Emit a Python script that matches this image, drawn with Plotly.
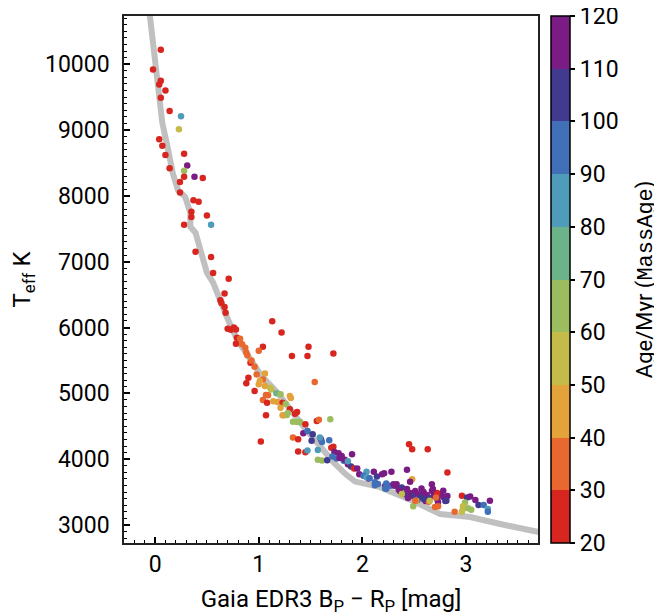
import plotly.graph_objects as go

# Isochrone (grey track)
iso_bp_rp = [-0.07, -0.05, 0.0, 0.03, 0.07, 0.12, 0.17, 0.22, 0.29, 0.34, 0.34, 0.39, 0.43,
             0.50, 0.56, 0.61, 0.69, 0.79, 0.92, 1.03, 1.18, 1.30, 1.43, 1.56, 1.72,
             1.84, 1.93, 2.17, 2.49, 2.75, 3.04, 3.33, 3.69, 3.80]
iso_teff = [11000, 10727, 9955, 9455, 9106, 8742, 8348, 8091, 7985, 7742, 7530, 7439, 7212,
            6833, 6682, 6470, 6167, 5818, 5515, 5258, 5015, 4758, 4500, 4258, 3955,
            3770, 3660, 3576, 3364, 3167, 3121, 3015, 2894, 2860]

# Stars: colour, effective temperature, age (Myr)
bp_rp = [0.055, -0.02, 0.055, 0.04, 0.10, 0.055, 0.14, 0.25, 0.23, 0.04, 0.07, 0.10, 0.28, 0.31,
         0.28, 0.14, 0.28, 0.38, 0.46, 0.24, 0.24, 0.37, 0.42, 0.35, 0.35, 0.50, 0.28, 0.54,
         0.39, 0.54, 0.56, 0.71,
         0.67, 0.63, 0.64, 0.67, 0.68, 1.13, 1.22, 0.70, 0.73, 0.76, 0.78, 0.79, 0.82, 0.78,
         0.84, 0.87, 1.04, 1.48, 1.32, 1.47, 1.72, 1.00, 0.88, 0.89, 0.92, 0.93, 0.96, 0.90,
         0.88, 0.98, 1.06, 1.04, 1.01, 1.00, 1.06, 1.11, 1.12, 0.96, 1.54, 1.07, 1.09, 1.17,
         1.21, 1.30, 1.31, 1.04, 1.08, 1.14, 1.18, 1.23, 1.26, 1.21, 1.30, 1.24, 1.27, 1.23,
         1.37, 1.35, 1.07, 1.33, 1.37, 1.40, 1.45, 1.56, 1.58, 1.69, 1.33, 1.38, 1.02, 1.43,
         1.47, 1.52, 1.60, 1.61, 1.68, 1.38, 1.45, 1.47, 1.57, 1.57, 1.61, 1.66, 1.70, 1.72,
         1.73, 1.77, 1.80, 1.90,
         1.28, 1.51, 1.59, 1.71, 1.75, 1.82, 1.86, 1.89, 1.92, 1.95, 1.97, 2.04, 2.06, 2.11,
         2.14, 2.19, 2.28, 2.33, 2.27, 2.12, 2.22, 1.78, 1.83, 1.86, 2.01, 2.04, 2.07, 2.12,
         2.15, 2.23, 2.31, 2.35, 2.38,
         2.21, 2.43, 2.48, 2.46, 2.23, 2.30, 2.22, 2.67, 2.57,
         2.36, 2.40, 2.43, 2.46, 2.49, 2.51, 2.54, 2.57, 2.59, 2.62, 2.65, 2.67, 2.69, 2.72,
         2.75, 2.78, 2.80, 2.82, 2.61, 2.53, 2.44, 2.73,
         2.72, 2.71, 2.52, 2.49, 2.70, 2.73, 2.89, 2.96, 3.01, 3.04, 3.09, 3.23, 2.99, 3.12,
         3.17, 3.21, 3.21, 2.97, 2.97, 2.96, 3.02, 3.05, 2.45, 2.48, 2.63, 2.82, 2.51, 2.64,
         2.68, 2.78, 2.81, 2.59, 2.65, 2.38]
teff = [10220, 9920, 9750, 9690, 9600, 9490, 9290, 9210, 9010, 8860, 8760, 8620, 8640, 8460,
        8380, 8420, 8290, 8290, 8270, 8210, 8050, 7935, 7910, 7760, 7680, 7700, 7560, 7560,
        7150, 7070, 6830, 6740,
        6516, 6414, 6374, 6313, 6223, 6096, 5925, 5980, 5965, 6000, 5970, 5844, 5830, 5755,
        5745, 5693, 5708, 5708, 5566, 5566, 5606, 5647, 5620, 5580, 5466, 5500, 5405, 5238,
        5152, 5288, 5303, 5212, 5187, 5137, 5111, 5087, 5060, 5037, 5172, 4975, 4970, 5000,
        4985, 4960, 4930, 4899, 4859, 4880, 4870, 4859, 4840, 4783, 4758, 4667, 4670, 4667,
        4717, 4690, 4667, 4570, 4566, 4566, 4531, 4581, 4600, 4606, 4329, 4303, 4268, 4394,
        4430, 4380, 4303, 4260, 4288, 4117, 4105, 4132, 4140, 3990, 3980, 3985, 4175, 4190,
        4110, 4090, 4050, 4076,
        4700, 4280, 4330, 4040, 4010, 3975, 3925, 3890, 3860, 3860, 3773, 3808, 3708, 3808,
        3738, 3773, 3808, 3621, 3596, 3606, 3596, 4020, 3990, 3970, 3750, 3725, 3710, 3650,
        3625, 3550, 3596, 3545, 3570,
        3788, 3838, 3697, 3657, 3630, 3620, 3556, 3621, 3556,
        3516, 3470, 3546, 3485, 3440, 3516, 3470, 3425, 3500, 3455, 3410, 3516, 3455, 3395,
        3470, 3425, 3364, 3440, 3364, 3380, 3410, 3349,
        3485, 3420, 3369, 3284, 3273, 3285, 3203, 3445, 3420, 3435, 3380, 3369, 3344, 3304,
        3304, 3243, 3200, 3284, 3243, 3203, 3254, 3233, 4228, 4152, 4152, 3799, 3369, 3354,
        3546, 3520, 3370, 3395, 3369, 3470]
age = [25, 25, 25, 25, 25, 25, 25, 85, 55, 25, 25, 25, 25, 115,
       65, 25, 25, 115, 25, 25, 25, 25, 25, 25, 25, 25, 25, 85,
       25, 25, 25, 25,
       25, 25, 25, 25, 25, 25, 25, 25, 25, 25, 25, 25, 35, 25,
       35, 35, 25, 25, 25, 25, 25, 35, 35, 35, 25, 35, 35, 25,
       25, 35, 45, 35, 45, 45, 45, 55, 55, 25, 35, 35, 35, 75,
       65, 45, 45, 35, 25, 45, 45, 25, 65, 45, 25, 65, 65, 45,
       25, 25, 25, 65, 65, 65, 25, 25, 35, 65, 35, 25, 25, 115,
       95, 105, 115, 95, 95, 25, 25, 85, 85, 65, 65, 105, 25, 25,
       115, 115, 115, 115,
       65, 105, 85, 95, 95, 95, 115, 105, 25, 115, 115, 85, 115, 115,
       105, 115, 115, 115, 95, 95, 115, 115, 115, 85, 95, 85, 95, 95,
       95, 95, 115, 115, 105,
       115, 115, 45, 115, 95, 115, 95, 115, 115,
       115, 105, 115, 115, 105, 115, 115, 105, 115, 115, 105, 115, 115, 105,
       115, 115, 105, 115, 115, 105, 115, 115,
       25, 35, 55, 65, 35, 35, 35, 25, 105, 115, 115, 115, 65, 105,
       95, 85, 95, 55, 55, 55, 65, 65, 25, 25, 25, 25, 35, 35,
       115, 115, 105, 105, 55, 55]

# Discrete colour bins (20-120 Myr in steps of 10)
bin_edges = [20, 30, 40, 50, 60, 70, 80, 90, 100, 110, 120]
bin_colors = ["#d7261f", "#e8682f", "#e3a23a", "#c4bb4a", "#9bbd5f",
              "#6db38a", "#4e9cba", "#416fb8", "#413a8e", "#7a1c84"]
cbar_ticks = [20, 30, 40, 50, 60, 70, 80, 90, 100, 110, 120]
x_ticks = [0, 1, 2, 3]
y_ticks = [3000, 4000, 5000, 6000, 7000, 8000, 9000, 10000]

lo, hi = bin_edges[0], bin_edges[-1]
colorscale = []
for i, c in enumerate(bin_colors):
    colorscale.append([(bin_edges[i] - lo) / (hi - lo), c])
    colorscale.append([(bin_edges[i + 1] - lo) / (hi - lo), c])

FONT = "Roboto"
TICK_SIZE = 23
TITLE_SIZE = 24

# The page body adds an 8 px offset; the figure is sized to fit the window.
fig = go.Figure()
fig.add_trace(go.Scatter(
    x=iso_bp_rp, y=iso_teff, mode="lines",
    line=dict(color="rgb(192,192,192)", width=6),
    hoverinfo="skip", showlegend=False))
fig.add_trace(go.Scatter(
    x=bp_rp, y=teff, mode="markers",
    marker=dict(size=6.5, color=age, cmin=lo, cmax=hi, colorscale=colorscale,
                line=dict(width=0),
                colorbar=dict(
                    x=1.031, xanchor="left", y=0.5, yanchor="middle", xpad=0, ypad=0,
                    len=1.0, lenmode="fraction", thickness=19,
                    outlinewidth=1.5, outlinecolor="black",
                    tickvals=cbar_ticks, ticktext=[str(t) for t in cbar_ticks],
                    ticks="outside", ticklen=5, ticklabeloverflow="allow",
                    tickwidth=1.5, tickcolor="black",
                    tickfont=dict(family=FONT, size=TICK_SIZE, color="black"))),
    showlegend=False))

fig.add_annotation(
    text="Age/Myr (<span style=\"font-family:'Liberation Mono'\">MassAge</span>)",
    xref="paper", yref="paper", x=1.26, y=0.5, xanchor="center", yanchor="middle",
    textangle=-90, showarrow=False, font=dict(family=FONT, size=22, color="black"))

fig.update_layout(
    width=654, height=608,
    margin=dict(l=116, r=124, t=8, b=73, autoexpand=False),
    paper_bgcolor="white", plot_bgcolor="white",
    font=dict(family=FONT, color="black"),
)
fig.update_xaxes(
    range=[-0.30, 3.694], tickvals=x_ticks, ticktext=[str(t) for t in x_ticks],
    ticks="inside", ticklen=6, tickwidth=1.5, ticklabelstandoff=0,
    tickcolor="black", showgrid=False, zeroline=False, automargin=False,
    showline=True, mirror=True, linecolor="#222", linewidth=1.5,
    minor=dict(dtick=0.1, tick0=0, ticks="inside", ticklen=3, tickwidth=1.2, tickcolor="black", showgrid=False),
    tickfont=dict(family=FONT, size=TICK_SIZE),
    title=dict(text="Gaia EDR3 B<sub>P</sub> − R<sub>P</sub> [mag]", font=dict(family=FONT, size=TITLE_SIZE), standoff=13),
)
fig.update_yaxes(
    range=[2727, 10732], tickvals=y_ticks, ticktext=[str(t) for t in y_ticks],
    ticks="inside", ticklen=6, tickwidth=1.5, tickcolor="black", ticklabelstandoff=8,
    showgrid=False, zeroline=False, automargin=False,
    showline=True, mirror=True, linecolor="#222", linewidth=1.5,
    minor=dict(dtick=100, tick0=0, ticks="inside", ticklen=3, tickwidth=1.2, tickcolor="black", showgrid=False),
    tickfont=dict(family=FONT, size=TICK_SIZE),
    title=dict(text="T<sub>eff</sub> K", font=dict(family=FONT, size=TITLE_SIZE), standoff=17),
)

fig.write_html("out.html")
